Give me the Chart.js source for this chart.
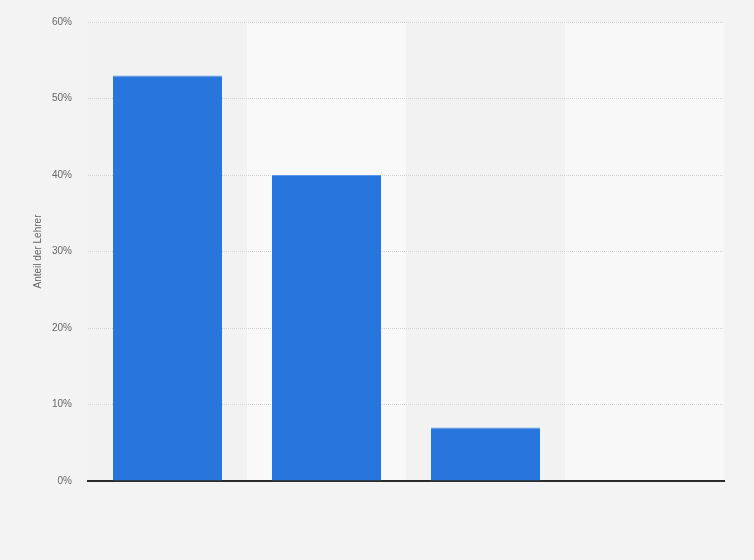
<!DOCTYPE html>
<html>
<head>
<meta charset="utf-8">
<script src="https://cdn.jsdelivr.net/npm/chart.js@4/dist/chart.umd.min.js"></script>
<style>
  html, body { margin: 0; padding: 0; background: #f3f3f3; }
  #wrap { width: 754px; height: 560px; }
</style>
</head>
<body>
<div id="wrap"><canvas id="chart"></canvas></div>
<script>
  // categories have no visible labels in the picture
  var categories = ['', ' ', '  ', '   '];
  var shares = [53, 40, 7, 0];
  var tickValues = [0, 10, 20, 30, 40, 50, 60];
  var bandColors = ['#f2f2f2', '#f9f9f9', '#f2f2f2', '#f8f8f8'];

  // alternating column backgrounds, drawn before the grid
  var bands = {
    id: 'bands',
    beforeDraw: function (chart) {
      var ctx = chart.ctx, x = chart.scales.x, area = chart.chartArea;
      var w = (area.right - area.left) / categories.length;
      ctx.save();
      for (var i = 0; i < categories.length; i++) {
        var cx = x.getPixelForValue(i);
        ctx.fillStyle = bandColors[i % bandColors.length];
        ctx.fillRect(cx - w / 2, area.top, w, area.bottom - area.top);
      }
      ctx.restore();
    }
  };

  var ctx = document.getElementById('chart');
  new Chart(ctx, {
    type: 'bar',
    data: {
      labels: categories,
      datasets: [{
        data: shares,
        backgroundColor: '#2876dd',
        borderColor: '#5b97e6',
        borderWidth: { top: 1, left: 0, right: 0, bottom: 0 },
        borderSkipped: 'bottom',
        barPercentage: 0.686,
        categoryPercentage: 1
      }]
    },
    options: {
      responsive: true,
      maintainAspectRatio: false,
      animation: false,
      layout: { padding: { left: 0, right: 30, top: 18, bottom: 0 } },
      plugins: { legend: { display: false }, tooltip: { enabled: false } },
      scales: {
        x: {
          grid: { display: false },
          ticks: { display: false },
          border: { display: true, color: '#2b2b2b', width: 2 },
          afterFit: function (s) { s.height = 79; }
        },
        y: {
          min: 0,
          max: 60,
          afterBuildTicks: function (s) {
            s.ticks = tickValues.map(function (v) { return { value: v }; });
          },
          afterFit: function (s) { s.width = 88; },
          grid: { color: '#d2d2d2', drawTicks: false, lineWidth: 1 },
          border: { display: false, dash: [1, 1] },
          ticks: {
            padding: 16,
            color: '#666666',
            font: { family: 'Liberation Sans, Arial, sans-serif', size: 10 },
            callback: function (v) { return v + '%'; }
          },
          title: {
            display: true,
            text: 'Anteil der Lehrer',
            color: '#666666',
            font: { family: 'Liberation Sans, Arial, sans-serif', size: 10 },
            padding: { top: 32, bottom: 0 }
          }
        }
      }
    },
    plugins: [bands]
  });
</script>
</body>
</html>
